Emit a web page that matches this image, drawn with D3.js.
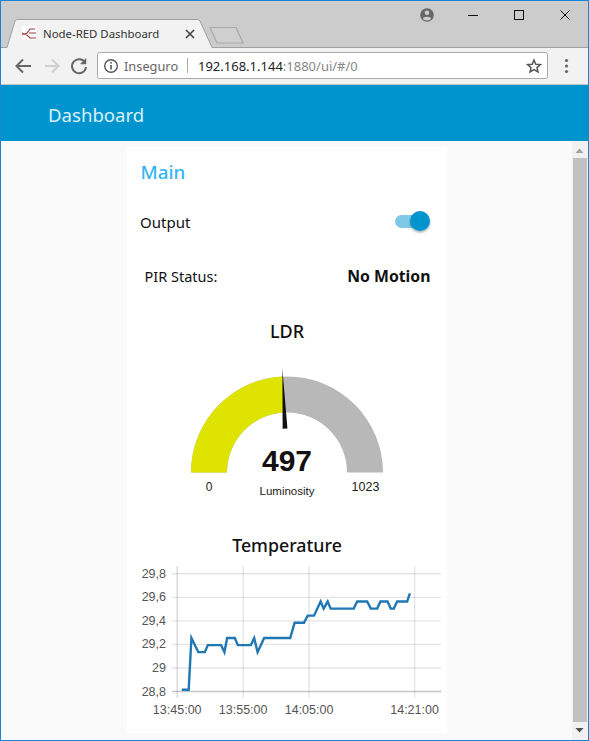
<!DOCTYPE html>
<html>
<head>
<meta charset="utf-8">
<script src="https://cdn.jsdelivr.net/npm/d3@7"></script>
<style>
html, body { margin: 0; padding: 0; background: #fff; overflow: hidden; }
svg { display: block; }
.ui { font-family: "Noto Sans", sans-serif; }
.chart { font-family: "Liberation Sans", Arial, sans-serif; }
</style>
</head>
<body>
<svg id="page" width="589" height="741"></svg>
<script>
// temperature readings
const tempTimes = ["13:45:46", "13:46:49", "13:47:14", "13:48:17", "13:49:16", "13:49:43", "13:51:44", "13:52:14", "13:52:39", "13:53:49", "13:54:16", "13:56:15", "13:56:45", "13:57:16", "13:58:16", "14:02:13", "14:02:53", "14:04:18", "14:04:52", "14:05:49", "14:06:50", "14:07:17", "14:07:54", "14:08:21", "14:11:51", "14:12:22", "14:13:53", "14:14:26", "14:15:24", "14:15:54", "14:16:58", "14:17:28", "14:17:56", "14:18:26", "14:19:57", "14:20:22"];
const tempValues = [28.81, 28.81, 29.25, 29.13, 29.13, 29.19, 29.19, 29.13, 29.25, 29.25, 29.19, 29.19, 29.25, 29.13, 29.25, 29.25, 29.38, 29.38, 29.44, 29.44, 29.56, 29.5, 29.56, 29.5, 29.5, 29.56, 29.56, 29.5, 29.5, 29.56, 29.56, 29.5, 29.5, 29.56, 29.56, 29.63];
const xTickLabels = ["13:45:00", "13:55:00", "14:05:00", "14:21:00"];
const yTickValues = [28.8, 29, 29.2, 29.4, 29.6, 29.8];
const timeEnd = "14:25:05";

// gauge values
const gaugeValue = 497;
const gaugeMin = 0;
const gaugeMax = 1023;

const parseTime = d3.timeParse("%H:%M:%S");
const formatTime = d3.timeFormat("%H:%M:%S");
const svg = d3.select("#page");

function rect(x, y, w, h, fill) {
	return svg.append("rect").attr("x", x).attr("y", y).attr("width", w).attr("height", h).attr("fill", fill);
}

function label(parent, x, y, str, size, fill, cls) {
	return parent
		.append("text")
		.attr("class", cls || "ui")
		.attr("x", x)
		.attr("y", y)
		.attr("font-size", size)
		.attr("fill", fill)
		.text(str);
}

function icon(d, stroke, width, fill) {
	return svg
		.append("path")
		.attr("d", d)
		.attr("fill", fill || "none")
		.attr("stroke", stroke)
		.attr("stroke-width", width);
}

// Browser window
rect(0, 0, 589, 47, "#cccccc");
rect(0, 47, 589, 38, "#f2f2f2");
rect(0, 47, 7, 1, "#a0a0a0");
rect(212, 47, 377, 1, "#a0a0a0");
rect(0, 84, 589, 1, "#c4c4c4");
icon("M7,47.5 L15,21 Q15.7,19.5 17.5,19.5 L197,19.5 Q199,19.5 200,21 L212,47.5", "#a0a0a0", 1, "#f2f2f2");
icon("M210,27.5 L236,27.5 L243,43 L217,43 Z", "#a9a9a9", 1.2, "#cfcfcf");

// Favicon
rect(22, 26, 14, 14, "#fff");
icon("M22,35 L27,33 L30,29 L35,29 M22,33 L27,35 L30,38 L36,38 M29,33 L36,33", "#9b3a3a", 1.1);
label(svg, 43, 38, "Node-RED Dashboard", 11.4, "#333");
icon("M186,30 L194,38 M194,30 L186,38", "#444", 1.6);

// Toolbar icons
icon("M31,66 L17,66 M23,59.5 L16.5,66 L23,72.5", "#666", 2);
icon("M45,66 L58,66 M52,59.5 L58.5,66 L52,72.5", "#cfcfcf", 2);
icon("M85,62.5 A7,7 0 1 0 86,67", "#666", 2);
icon("M86,58.5 L86,64 L80.5,64 Z", "#666", 0.5, "#666");

// Address box
svg.append("rect").attr("x", 97.5).attr("y", 52.5).attr("width", 450).attr("height", 26).attr("rx", 2).attr("fill", "#fff").attr("stroke", "#a9a9a9");
svg.append("circle").attr("cx", 111).attr("cy", 66).attr("r", 6.3).attr("fill", "none").attr("stroke", "#555").attr("stroke-width", 1.4);
rect(110.2, 65, 1.6, 4.5, "#555");
rect(110.2, 62, 1.6, 1.6, "#555");
label(svg, 124, 71, "Inseguro", 12.8, "#666");
rect(187, 58, 1, 15, "#aaa");
const url = label(svg, 198, 71, "192.168.1.144", 13, "#222");
url.append("tspan").attr("fill", "#888").text(":1880/ui/#/0");
icon("M534,60 L535.8,64.2 L540.4,64.6 L537,67.6 L538,72 L534,69.6 L530,72 L531,67.6 L527.6,64.6 L532.2,64.2 Z", "#555", 1.5);
[60.5, 66, 71.5].forEach((y) => svg.append("circle").attr("cx", 566.5).attr("cy", y).attr("r", 1.6).attr("fill", "#666"));

// Window buttons
svg.append("circle").attr("cx", 427).attr("cy", 15).attr("r", 6.8).attr("fill", "#666");
svg.append("circle").attr("cx", 427).attr("cy", 12.8).attr("r", 2.3).attr("fill", "#ccc");
svg.append("ellipse").attr("cx", 427).attr("cy", 18.6).attr("rx", 4).attr("ry", 1.8).attr("fill", "#ccc");
rect(468, 15, 10, 1, "#111");
svg.append("rect").attr("x", 514.5).attr("y", 10.5).attr("width", 9).attr("height", 9).attr("fill", "none").attr("stroke", "#111");
icon("M560.5,10.5 L569.5,19.5 M569.5,10.5 L560.5,19.5", "#111", 1);

// Dashboard page
rect(0, 85, 589, 56, "#0094ce");
label(svg, 48, 122, "Dashboard", 18.6, "#d9f1fa");
rect(0, 141, 589, 600, "#fafafa");
rect(127, 147, 320, 586, "#fff");

// Scrollbar
rect(572, 141, 17, 600, "#f1f1f1");
rect(573, 158, 14, 564, "#c1c1c1");
icon("M575.5,153 L579.5,148.5 L583.5,153 Z", "none", 0, "#a3a3a3");
icon("M575.5,728 L579.5,732.5 L583.5,728 Z", "none", 0, "#505050");

// Window border
rect(0, 0, 589, 1, "#1883d7");
rect(0, 740, 589, 1, "#1883d7");
rect(0, 0, 1, 741, "#1883d7");
rect(588, 0, 1, 741, "#1883d7");

// Group widgets
label(svg, 140.5, 178.5, "Main", 18.8, "#33b5f5").attr("font-weight", 500);
label(svg, 140, 228, "Output", 15, "#111");
label(svg, 144.5, 282, "PIR Status:", 14.5, "#111");
label(svg, 430.5, 282, "No Motion", 15.8, "#111").attr("text-anchor", "end").attr("font-weight", 700);

// Switch
const defs = svg.append("defs");
const shadow = defs.append("filter").attr("id", "thumbShadow").attr("x", "-40%").attr("y", "-40%").attr("width", "180%").attr("height", "180%");
shadow.append("feDropShadow").attr("dx", 0).attr("dy", 1.5).attr("stdDeviation", 1.2).attr("flood-color", "#000").attr("flood-opacity", 0.35);
svg.append("rect").attr("x", 395).attr("y", 215).attr("width", 28).attr("height", 13).attr("rx", 6.5).attr("fill", "#7fc9e7");
svg.append("circle").attr("cx", 420).attr("cy", 221).attr("r", 10).attr("fill", "#0094ce").attr("filter", "url(#thumbShadow)");

// Gauge
label(svg, 287, 338, "LDR", 18, "#111").attr("text-anchor", "middle").attr("font-weight", 500);

const gaugeCx = 287;
const gaugeCy = 472.5;
const gaugeAngle = d3.scaleLinear().domain([gaugeMin, gaugeMax]).range([-Math.PI / 2, Math.PI / 2]);
const gaugeArc = d3.arc().innerRadius(60).outerRadius(96);
const gauge = svg.append("g").attr("transform", "translate(" + gaugeCx + "," + gaugeCy + ")");

gauge
	.append("path")
	.attr("d", gaugeArc({ startAngle: gaugeAngle(gaugeMin), endAngle: gaugeAngle(gaugeMax) }))
	.attr("fill", "#b8b8b8");
gauge
	.append("path")
	.attr("d", gaugeArc({ startAngle: gaugeAngle(gaugeMin), endAngle: gaugeAngle(gaugeValue) }))
	.attr("fill", "#dfe300");

// Needle, thin at the tip and wider at the inner end
const needleAngle = gaugeAngle(gaugeValue);
const needlePoint = (r, side) => [
	r * Math.sin(needleAngle) + side * Math.cos(needleAngle),
	-r * Math.cos(needleAngle) + side * Math.sin(needleAngle),
];
gauge
	.append("path")
	.attr("d", d3.line()([needlePoint(104, 0), needlePoint(44, 2.4), needlePoint(44, -2.4)]) + "Z")
	.attr("fill", "#111");

label(svg, gaugeCx, 471, gaugeValue, 30, "#111", "chart").attr("text-anchor", "middle").attr("font-weight", 700);
label(svg, gaugeCx, 495, "Luminosity", 11.5, "#222", "chart").attr("text-anchor", "middle");
label(svg, 209, 491, gaugeMin, 12, "#222", "chart").attr("text-anchor", "middle");
label(svg, 365.5, 491, gaugeMax, 12.5, "#222", "chart").attr("text-anchor", "middle");

// Temperature chart
label(svg, 287, 552, "Temperature", 17.8, "#111").attr("text-anchor", "middle").attr("font-weight", 500);

const margin = { top: 566, right: 148, bottom: 50, left: 176.7 };
const x = d3
	.scaleTime()
	.domain([parseTime(xTickLabels[0]), parseTime(timeEnd)])
	.range([margin.left, 589 - margin.right]);
const y = d3.scaleLinear().domain([28.8, 29.8]).range([691, 573.3]);

const xAxis = d3
	.axisBottom(x)
	.tickValues(xTickLabels.map(parseTime))
	.tickFormat(formatTime)
	.tickSize(-(698 - margin.top))
	.tickPadding(7);
const yAxis = d3
	.axisLeft(y)
	.tickValues(yTickValues)
	.tickFormat((d) => String(d).replace(".", ","))
	.tickSize(-(x.range()[1] - x.range()[0] + 5))
	.tickPadding(6);

const xAxisG = svg.append("g").attr("class", "chart").attr("transform", "translate(0,698)").call(xAxis);
const yAxisG = svg.append("g").attr("class", "chart").attr("transform", "translate(172,0)").call(yAxis);

[xAxisG, yAxisG].forEach((g) => {
	g.select(".domain").remove();
	g.selectAll("line").attr("stroke", "rgba(0,0,0,0.1)").attr("stroke-width", 1.4);
	g.selectAll("text").attr("fill", "#555").attr("font-size", 12.5).attr("font-family", '"Liberation Sans", Arial, sans-serif');
});
yAxisG.selectAll(".tick line").filter((d) => d === yTickValues[0]).attr("stroke", "rgba(0,0,0,0.22)");
xAxisG.selectAll(".tick line").filter((d, i) => i === 0).attr("stroke", "rgba(0,0,0,0.16)");

const line = d3
	.line()
	.x((d) => x(parseTime(d[0])))
	.y((d) => y(d[1]));
svg
	.append("path")
	.datum(d3.zip(tempTimes, tempValues))
	.attr("d", line)
	.attr("fill", "none")
	.attr("stroke", "#1f77b4")
	.attr("stroke-width", 2.4);
</script>
</body>
</html>
